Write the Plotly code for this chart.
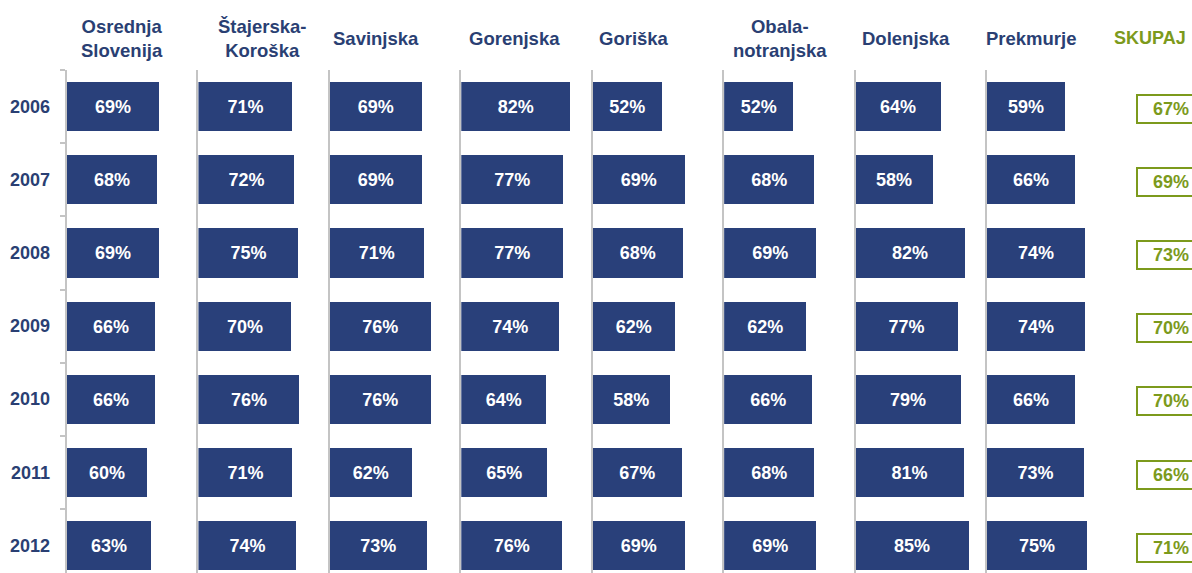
import plotly.graph_objects as go

# ── Data ───────────────────────────────────────────────────────────────────
years = ["2006", "2007", "2008", "2009", "2010", "2011", "2012"]
regions = ["Osrednja<br>Slovenija", "Štajerska-<br>Koroška", "Savinjska", "Gorenjska",
           "Goriška", "Obala-<br>notranjska", "Dolenjska", "Prekmurje"]
osrednja = [69, 68, 69, 66, 66, 60, 63]
stajerska = [71, 72, 75, 70, 76, 71, 74]
savinjska = [69, 69, 71, 76, 76, 62, 73]
gorenjska = [82, 77, 77, 74, 64, 65, 76]
goriska = [52, 69, 68, 62, 58, 67, 69]
obala = [52, 68, 69, 62, 66, 68, 69]
dolenjska = [64, 58, 82, 77, 79, 81, 85]
prekmurje = [59, 66, 74, 74, 66, 73, 75]
skupaj = [67, 69, 73, 70, 70, 66, 71]

values = [osrednja, stajerska, savinjska, gorenjska, goriska, obala, dolenjska, prekmurje]

# ── Style ──────────────────────────────────────────────────────────────────
W, H = 1192, 573
NAVY = "#29407a"
HEAD = "#2a3f73"
GREEN = "#7c9a1c"
AXIS = "#c4c4c4"
FONT = "Arial, Liberation Sans, sans-serif"

TOP = 70          # pixel top of plot area
ROW = 73.2        # pixel height of one year row
COL0, COLW = 67, 131.43   # first column axis x and column pitch
PX_PER_PCT = 1.328
header_x = [122, 262, 376, 514, 634, 780, 906, 1031]

y_idx = list(range(len(years)))
y_range = [-0.5 + (H - TOP) / ROW, -0.5]

fig = go.Figure()
layout = {}
for i, vals in enumerate(values):
    n = "" if i == 0 else str(i + 1)
    fig.add_trace(go.Bar(
        x=vals, y=y_idx, orientation="h", width=0.67,
        marker={"color": NAVY, "line": {"width": 0}},
        texttemplate="<b>%{x}%</b>", textposition="inside",
        insidetextanchor="middle", constraintext="none",
        textfont={"color": "white", "size": 18, "family": FONT},
        xaxis="x" + n, yaxis="y" + n, showlegend=False,
        hovertemplate="%{x}%<extra></extra>",
    ))
    left = COL0 + COLW * i
    layout["xaxis" + n] = dict(
        domain=[left / W, (left + COLW) / W], range=[0, COLW / PX_PER_PCT],
        visible=False, anchor="y" + n, fixedrange=True,
    )
    layout["yaxis" + n] = dict(
        domain=[0, 1], range=y_range, anchor="x" + n,
        showline=True, linecolor=AXIS, linewidth=2,
        showgrid=False, zeroline=False, showticklabels=False,
        tickvals=[v - 0.5 for v in y_idx] if i == 0 else [],
        ticks="outside" if i == 0 else "", ticklen=5, tickwidth=1.5, tickcolor=AXIS,
    )

annotations = []
# region headers
for hx, name in zip(header_x, regions):
    annotations.append(dict(
        text=f"<b>{name}</b>", x=hx / W, xref="paper", xanchor="center",
        y=(H - 38) / (H - TOP), yref="paper", yanchor="middle",
        showarrow=False, font={"color": HEAD, "size": 18.5, "family": FONT},
    ))
annotations.append(dict(
    text="<b>SKUPAJ</b>", x=1150 / W, xref="paper", xanchor="center",
    y=(H - 38) / (H - TOP), yref="paper", yanchor="middle",
    showarrow=False, font={"color": GREEN, "size": 18, "family": FONT},
))
# year labels and totals (box runs off the right edge like the original)
for yi, yr in enumerate(years):
    annotations.append(dict(
        text=f"<b>{yr}</b>", x=52 / W, xref="paper", xanchor="right",
        y=yi, yref="y", yanchor="middle", showarrow=False,
        font={"color": HEAD, "size": 18, "family": FONT},
    ))
    annotations.append(dict(
        text=f"<b>{skupaj[yi]}%</b>&nbsp;&nbsp;", x=1136 / W, xref="paper", xanchor="left",
        y=yi, yref="y", yanchor="middle", yshift=-2, showarrow=False,
        width=58, align="right", borderpad=3,
        bordercolor=GREEN, borderwidth=2, bgcolor="white",
        font={"color": GREEN, "size": 18, "family": FONT},
    ))

fig.update_layout(
    **layout,
    annotations=annotations,
    width=W, height=H,
    margin={"l": 0, "r": 0, "t": TOP, "b": 0},
    paper_bgcolor="white", plot_bgcolor="white",
    bargap=0, showlegend=False,
    font={"family": FONT},
)
fig.write_html("out.html", config={"displayModeBar": False},
               post_script="document.body.style.margin='0';document.body.style.overflow='hidden';")
